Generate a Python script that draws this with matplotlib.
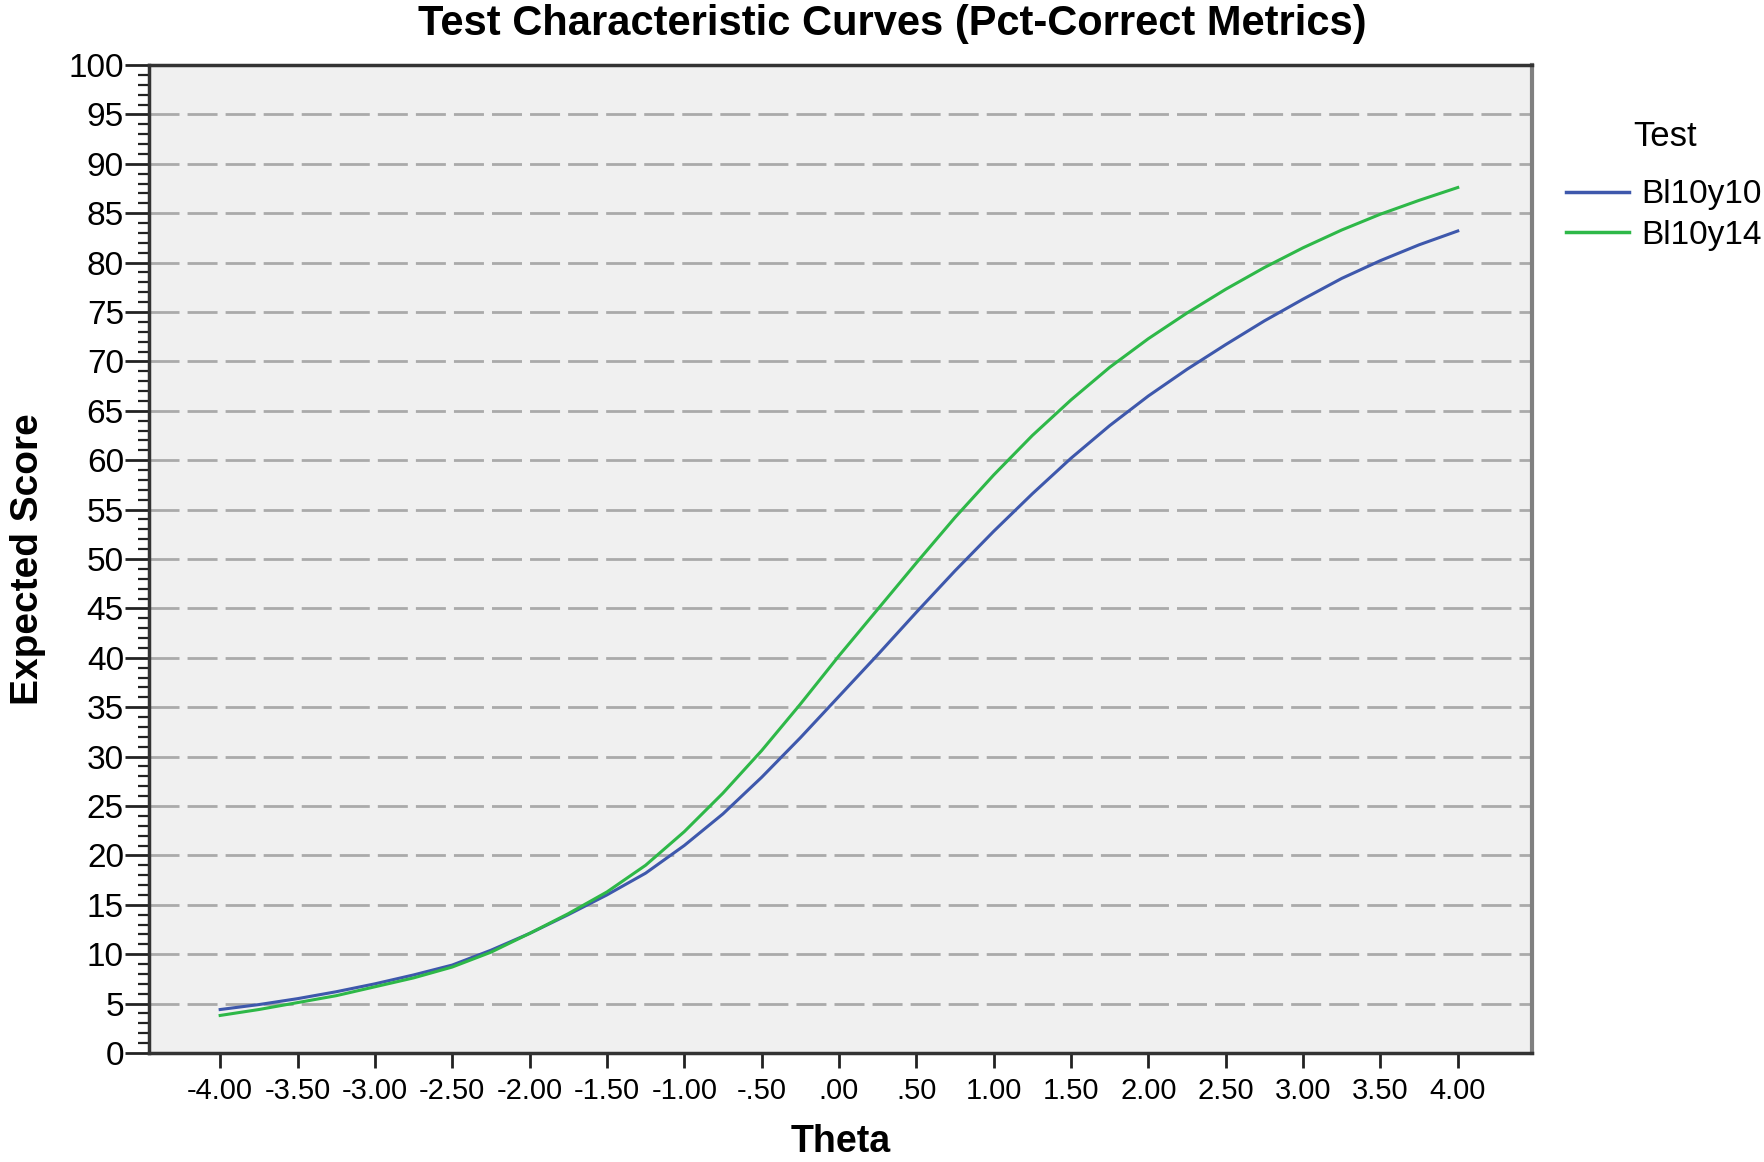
import numpy as np
import matplotlib
matplotlib.use("Agg")
import matplotlib.pyplot as plt
from matplotlib.ticker import MultipleLocator, FuncFormatter

plt.rcParams['font.family'] = ['Liberation Sans', 'DejaVu Sans']

# Theta grid and expected scores
theta = [-4.00, -3.75, -3.50, -3.25, -3.00, -2.75, -2.50, -2.25, -2.00, -1.75,
         -1.50, -1.25, -1.00, -0.75, -0.50, -0.25, 0.00, 0.25, 0.50, 0.75,
         1.00, 1.25, 1.50, 1.75, 2.00, 2.25, 2.50, 2.75, 3.00, 3.25,
         3.50, 3.75, 4.00]
bl10y10 = [4.4, 4.9, 5.5, 6.2, 7.0, 7.9, 8.9, 10.4, 12.1, 14.0,
           16.0, 18.2, 21.0, 24.2, 27.9, 31.9, 36.1, 40.3, 44.6, 48.8,
           52.8, 56.6, 60.2, 63.5, 66.5, 69.2, 71.7, 74.1, 76.3, 78.4,
           80.2, 81.8, 83.2]
bl10y14 = [3.8, 4.4, 5.1, 5.8, 6.7, 7.6, 8.7, 10.2, 12.1, 14.1,
           16.3, 19.0, 22.4, 26.3, 30.6, 35.3, 40.2, 44.9, 49.6, 54.2,
           58.5, 62.5, 66.1, 69.4, 72.3, 74.9, 77.3, 79.5, 81.5, 83.3,
           84.9, 86.3, 87.6]
series_names = ["Bl10y10", "Bl10y14"]
series_colors = ["#3E58AC", "#2EB848"]

fig = plt.figure(figsize=(17.65, 11.62), dpi=100)
ax = fig.add_axes([149 / 1765, 1 - 1053 / 1162, (1532 - 149) / 1765, (1053 - 65) / 1162])
ax.set_facecolor("#F0F0F0")

# dashed horizontal grid every 5
for yv in range(5, 100, 5):
    ax.axhline(yv, color="#AAAAAA", linewidth=2, dashes=(10.8, 2.9), zorder=1)

for vals, name, col in zip([bl10y10, bl10y14], series_names, series_colors):
    ax.plot(theta, vals, color=col, linewidth=2.2, label=name, zorder=3)

ax.set_xlim(-4.46, 4.48)
ax.set_ylim(0, 100)

ax.yaxis.set_major_locator(MultipleLocator(5))
ax.yaxis.set_minor_locator(MultipleLocator(1))


def fmt_theta(v, pos):
    s = "%.2f" % v
    return s.replace("0.", ".", 1) if s.startswith("0.") or s.startswith("-0.") else s


ax.set_xticks(np.arange(-4, 4.01, 0.5))
ax.xaxis.set_major_formatter(FuncFormatter(fmt_theta))

ax.tick_params(axis="y", which="major", length=17, width=2, labelsize=24, pad=1, color="#222222")
ax.tick_params(axis="y", which="minor", length=8, width=1.6, color="#222222")
ax.tick_params(axis="x", which="major", length=11, width=2, labelsize=21, pad=6, color="#222222")

for side in ["left", "bottom", "top"]:
    ax.spines[side].set_linewidth(2.5)
    ax.spines[side].set_color("#333333")
ax.spines["right"].set_linewidth(3)
ax.spines["right"].set_color("#808080")

ax.set_xlabel("Theta", fontsize=27, fontweight="bold", labelpad=14)
ax.set_ylabel("Expected Score", fontsize=28, fontweight="bold", labelpad=16)

fig.text(892 / 1765, 1 - 24 / 1162, "Test Characteristic Curves (Pct-Correct Metrics)",
         fontsize=30, fontweight="bold", ha="center", va="center")

# legend title drawn on its own, entries below it
fig.text(1665 / 1765, 1 - 136 / 1162, "Test", fontsize=25, ha="center", va="center")
leg = fig.legend(*ax.get_legend_handles_labels(), loc="center left",
                 bbox_to_anchor=(1566 / 1765, 1 - 215 / 1162),
                 frameon=False, fontsize=24, borderpad=0, borderaxespad=0,
                 handlelength=1.9, handletextpad=0.35, labelspacing=0.28)
for line in leg.get_lines():
    line.set_linewidth(2.5)

fig.savefig("out.png", dpi=100)
